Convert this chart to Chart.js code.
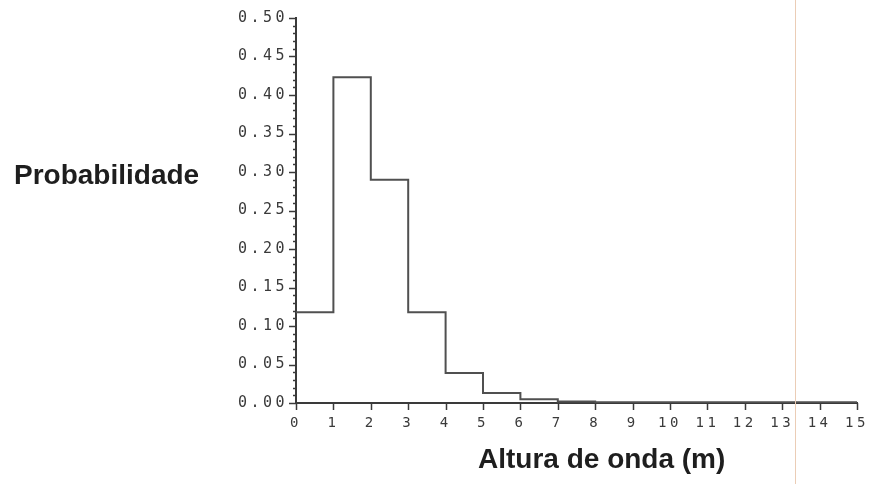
<!DOCTYPE html>
<html>
<head>
<meta charset="utf-8">
<script src="https://cdn.jsdelivr.net/npm/chart.js@4.4.1/dist/chart.umd.min.js"></script>
<style>
  html, body { margin: 0; padding: 0; background: #fff; }
  #wrap { width: 872px; height: 484px; }
</style>
</head>
<body>
<div id="wrap"><canvas id="histChart" width="872" height="484"></canvas></div>
<script>
// bin left edges (m) and the last right edge
var binEdges = [0, 1, 2, 3, 4, 5, 6, 7, 8, 9, 10, 11, 12, 13, 14, 15]
// probability of each bin, last value repeated to close the step at 15
var probValues = [0.118, 0.423, 0.290, 0.118, 0.039, 0.013, 0.005, 0.002, 0.001, 0.001, 0.001, 0.001, 0.001, 0.001, 0.001, 0.001]
var yTitle = 'Probabilidade'
var xTitle = 'Altura de onda (m)'

var inkColor = '#3a3a3a'

var stepPoints = binEdges.map(function(x, i) {
    return { x: x, y: probValues[i] }
})

// axes ticks (major + minor) and titles, drawn on top
var axisDecor = {
    id: 'axisDecor',
    beforeDraw: function(chart) {
        chart.ctx.letterSpacing = '3.5px'
    },
    afterDraw: function(chart) {
        var ctx = chart.ctx
        var xs = chart.scales.x
        var ys = chart.scales.y
        var area = chart.chartArea
        ctx.save()
        ctx.letterSpacing = '0px'

        // scan artefact line
        var artX = Math.round(xs.getPixelForValue(13.34)) + 0.5
        ctx.strokeStyle = '#ebcdb6'
        ctx.lineWidth = 1
        ctx.beginPath()
        ctx.moveTo(artX, 0)
        ctx.lineTo(artX, chart.height)
        ctx.stroke()

        ctx.strokeStyle = inkColor
        ctx.lineWidth = 1.5
        ys.ticks.forEach(function(t) {
            var py = Math.round(ys.getPixelForValue(t.value)) + 0.5
            var major = Math.round(t.value * 100) % 5 === 0
            ctx.beginPath()
            ctx.moveTo(area.left - (major ? 7 : 3), py)
            ctx.lineTo(area.left, py)
            ctx.stroke()
        })
        xs.ticks.forEach(function(t) {
            var px = Math.round(xs.getPixelForValue(t.value)) + 0.5
            ctx.beginPath()
            ctx.moveTo(px, area.bottom)
            ctx.lineTo(px, area.bottom + 7)
            ctx.stroke()
        })

        ctx.fillStyle = '#1e1e1e'
        ctx.font = 'bold 28px "Liberation Sans", Arial, sans-serif'
        ctx.textBaseline = 'middle'
        ctx.textAlign = 'left'
        ctx.fillText(yTitle, 14, 176)
        ctx.fillText(xTitle, 478, 460)
        ctx.restore()
    }
}

var histCanvas = document.getElementById('histChart').getContext('2d')

new Chart(histCanvas, {
    type: 'line',
    data: {
        datasets: [
            {
                data           : stepPoints,
                stepped        : 'before',
                borderColor    : '#505050',
                borderWidth    : 2,
                pointRadius    : 0,
                fill           : false
            }
        ]
    },
    options: {
        responsive         : false,
        animation          : false,
        layout             : { padding: { top: 18, right: 15, left: 0, bottom: 0 } },
        plugins: {
            legend : { display: false },
            tooltip: { enabled: false }
        },
        scales: {
            x: {
                type : 'linear',
                min  : 0,
                max  : 15,
                grid : { drawOnChartArea: false, drawTicks: false },
                border: { color: inkColor, width: 2 },
                ticks: {
                    stepSize : 1,
                    padding  : 12,
                    color    : '#3a3a3a',
                    font     : { family: 'DejaVu Sans Mono', size: 14 },
                    maxRotation: 0
                },
                afterFit: function(scale) {
                    scale.height = 81
                    scale.paddingLeft = 0
                    scale.paddingRight = 0
                }
            },
            y: {
                min  : 0,
                max  : 0.5,
                grid : { drawOnChartArea: false, drawTicks: false },
                border: { color: inkColor, width: 2 },
                ticks: {
                    stepSize : 0.01,
                    autoSkip : false,
                    padding  : 8,
                    color    : '#3a3a3a',
                    font     : { family: 'DejaVu Sans Mono', size: 15 },
                    callback : function(value) {
                        return Math.round(value * 100) % 5 === 0 ? value.toFixed(2) : ''
                    }
                },
                afterFit: function(scale) {
                    scale.width = 296
                    scale.paddingTop = 0
                    scale.paddingBottom = 0
                }
            }
        }
    },
    plugins: [axisDecor]
})
</script>
</body>
</html>
